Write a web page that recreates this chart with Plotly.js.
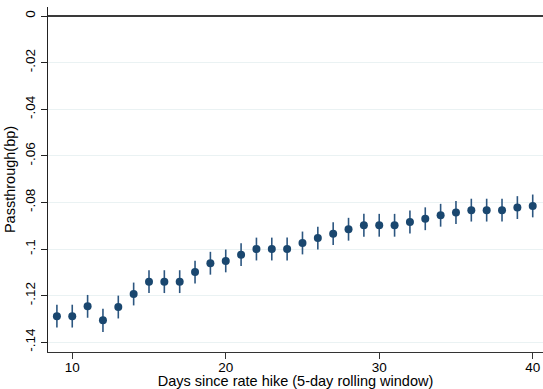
<!DOCTYPE html>
<html>
<head>
<meta charset="utf-8">
<script src="https://cdn.plot.ly/plotly-3.0.1.min.js"></script>
<style>html,body{margin:0;padding:0;background:#fff;}#chart{width:543px;height:389px;}</style>
</head>
<body>
<div id="chart"></div>
<script>
const days = [9,10,11,12,13,14,15,16,17,18,19,20,21,22,23,24,25,26,27,28,29,30,31,32,33,34,35,36,37,38,39,40];
const passthrough = [-0.1288,-0.1288,-0.1246,-0.1306,-0.1249,-0.1193,-0.1140,-0.1140,-0.1140,-0.1099,
  -0.1061,-0.1051,-0.1024,-0.1000,-0.1000,-0.1000,-0.0974,-0.0953,-0.0934,-0.0915,
  -0.0898,-0.0898,-0.0898,-0.0884,-0.0870,-0.0855,-0.0843,-0.0833,-0.0833,-0.0833,-0.0822,-0.0815];
const ciHalf = [0.0049,0.0049,0.0049,0.0050,0.0049,0.0049,0.0049,0.0049,0.0049,0.0049,
  0.0049,0.0049,0.0049,0.0049,0.0049,0.0049,0.0049,0.0049,0.0049,0.0049,
  0.0049,0.0049,0.0049,0.0049,0.0049,0.0049,0.0049,0.0049,0.0049,0.0049,0.0049,0.0049];
const yTickVals = [0,-0.02,-0.04,-0.06,-0.08,-0.1,-0.12,-0.14];
const yTickText = ["0","-.02","-.04","-.06","-.08","-.1","-.12","-.14"];
const xTickVals = [10,20,30,40];

const trace = {
  x: days, y: passthrough, type: 'scatter', mode: 'markers',
  marker: {color: '#1a476f', size: 8},
  error_y: {type: 'data', array: ciHalf, visible: true, color: '#2c5680', thickness: 1.6, width: 0},
  hoverinfo: 'skip'
};
const font = {family: '"Liberation Sans", Arial, sans-serif', size: 13.5, color: '#000'};
const titleFont = {family: '"Liberation Sans", Arial, sans-serif', size: 14.5, color: '#000'};
const layout = {
  width: 543, height: 389,
  margin: {l: 48, r: 0, t: 7, b: 37},
  paper_bgcolor: '#fff', plot_bgcolor: '#fff',
  showlegend: false,
  font: font,
  xaxis: {
    range: [8.42, 40.67], tickvals: xTickVals, ticktext: xTickVals.map(String),
    showgrid: false, zeroline: false, showline: true, linecolor: '#333', linewidth: 1.3,
    ticks: 'outside', ticklen: 6, tickcolor: '#333', tickfont: font, ticklabelstandoff: -4,
    title: {text: 'Days since rate hike (5-day rolling window)', font: titleFont, standoff: 4}
  },
  yaxis: {
    range: [-0.1442, 0.0039], tickvals: yTickVals, ticktext: yTickText, tickangle: -90,
    showgrid: true, gridcolor: '#eaf2f3', gridwidth: 1,
    zeroline: true, zerolinecolor: '#3a3a3a', zerolinewidth: 1.8,
    showline: true, linecolor: '#222', linewidth: 1.3,
    ticks: 'outside', ticklen: 6, tickcolor: '#222', tickfont: font,
    title: {text: 'Passthrough(bp)', font: titleFont, standoff: 4}
  }
};
Plotly.newPlot('chart', [trace], layout, {displayModeBar: false, staticPlot: true});
</script>
</body>
</html>
